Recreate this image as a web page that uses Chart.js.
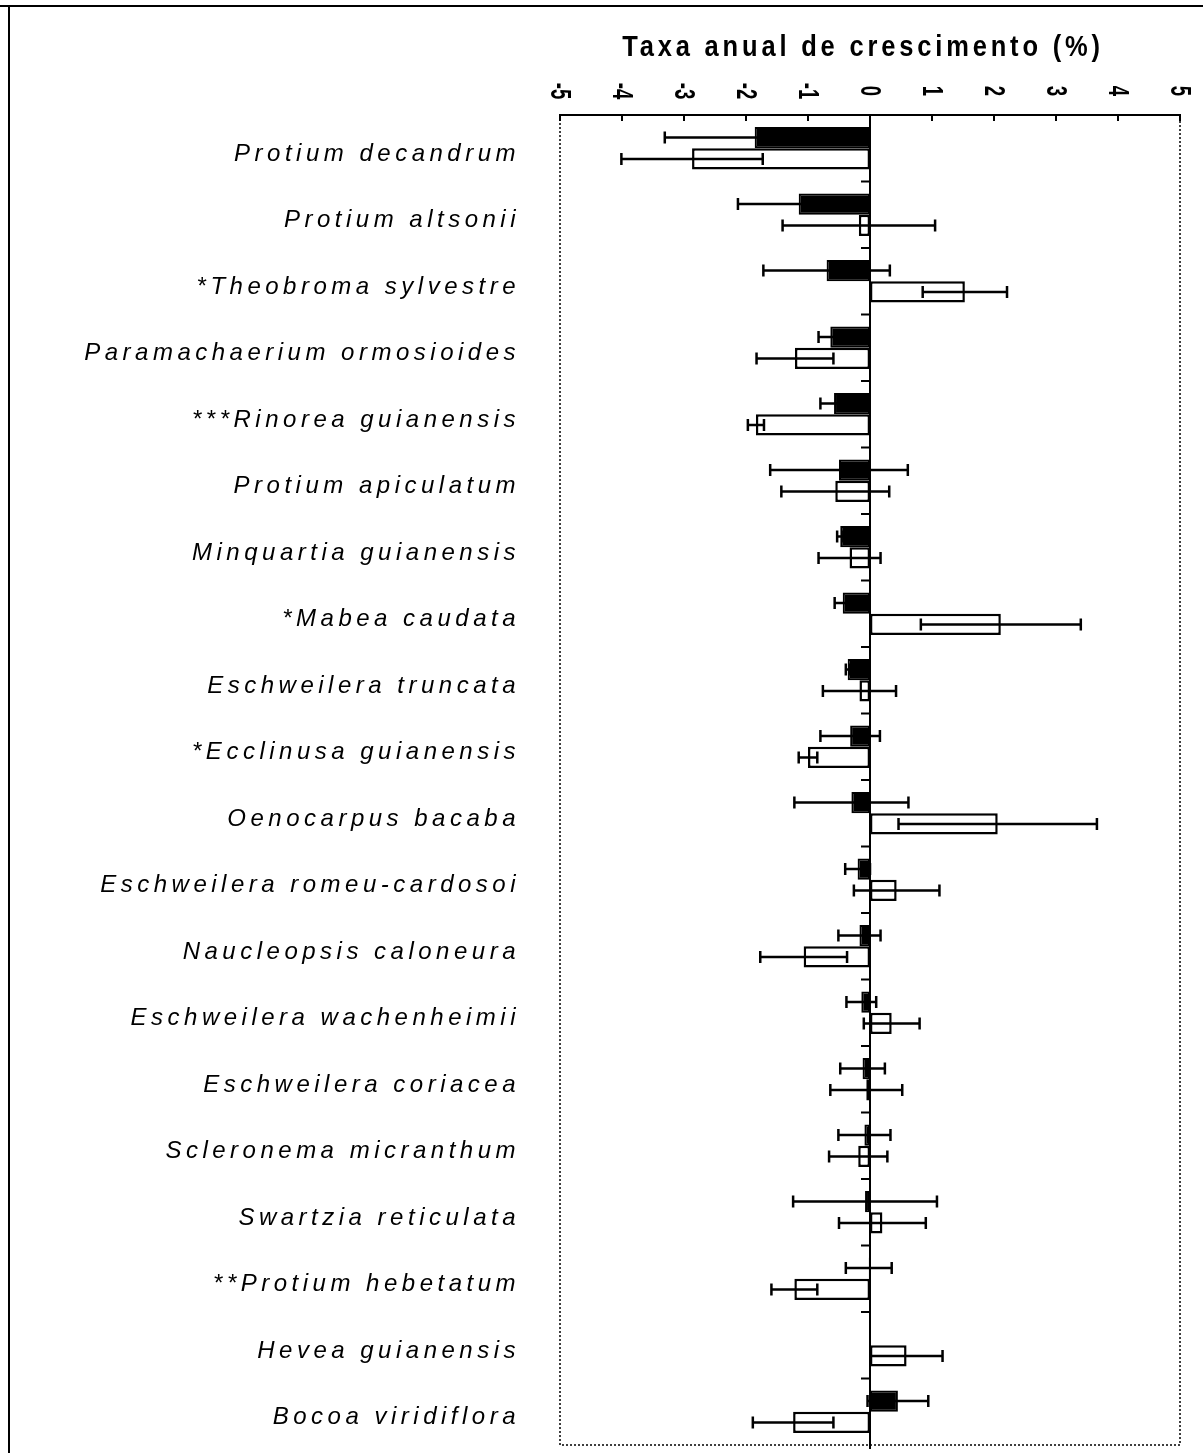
<!DOCTYPE html>
<html>
<head>
<meta charset="utf-8">
<script src="https://cdn.jsdelivr.net/npm/chart.js@4.4.1/dist/chart.umd.min.js"></script>
<style>
  html, body { margin: 0; padding: 0; background: #fff; }
  canvas { display: block; }
</style>
</head>
<body>
<canvas id="growthChart" width="1203" height="1453"></canvas>
<script>
const species = [
  "Protium decandrum", "Protium altsonii", "*Theobroma sylvestre",
  "Paramachaerium ormosioides", "***Rinorea guianensis", "Protium apiculatum",
  "Minquartia guianensis", "*Mabea caudata", "Eschweilera truncata",
  "*Ecclinusa guianensis", "Oenocarpus bacaba", "Eschweilera romeu-cardosoi",
  "Naucleopsis caloneura", "Eschweilera wachenheimii", "Eschweilera coriacea",
  "Scleronema micranthum", "Swartzia reticulata", "**Protium hebetatum",
  "Hevea guianensis", "Bocoa viridiflora"
];

// filled bars
const blackMean = [-1.86, -1.15, -0.70, -0.64, -0.58, -0.50, -0.48, -0.44, -0.36, -0.32,
                   -0.30, -0.20, -0.17, -0.14, -0.12, -0.09, -0.08, -0.02, 0, 0.45];
const blackErr  = [1.45, 0.98, 1.02, 0.19, 0.22, 1.11, 0.05, 0.13, 0.03, 0.48,
                   0.92, 0.20, 0.34, 0.24, 0.36, 0.42, 1.16, 0.37, 0, 0.49];

// open bars
const whiteMean = [-2.87, -0.18, 1.53, -1.21, -1.84, -0.56, -0.33, 2.11, -0.17, -1.00,
                   2.06, 0.43, -1.07, 0.35, -0.06, -0.19, 0.20, -1.22, 0.59, -1.24];
const whiteErr  = [1.14, 1.23, 0.68, 0.62, 0.13, 0.87, 0.50, 1.29, 0.59, 0.15,
                   1.60, 0.69, 0.70, 0.45, 0.58, 0.47, 0.70, 0.37, 0.58, 0.65];

const xTicks = [-5, -4, -3, -2, -1, 0, 1, 2, 3, 4, 5];
const axisTitle = "Taxa anual de crescimento (%)";

const pageFrame = {
  id: "pageFrame",
  beforeDraw(chart) {
    const { ctx, width, height } = chart;
    ctx.save();
    ctx.fillStyle = "#fff";
    ctx.fillRect(0, 0, width, height);
    ctx.strokeStyle = "#000";
    ctx.lineWidth = 2;
    ctx.beginPath();
    ctx.moveTo(0, 6); ctx.lineTo(width, 6);
    ctx.moveTo(9, 6); ctx.lineTo(9, height);
    ctx.stroke();
    ctx.restore();
    // spaced-out italic species labels
    ctx.letterSpacing = "4.5px";
  }
};

const errorBars = {
  id: "errorBars",
  afterDatasetsDraw(chart) {
    const { ctx } = chart;
    const x = chart.scales.x;
    const means = [blackMean, whiteMean];
    const errs = [blackErr, whiteErr];
    ctx.save();
    ctx.strokeStyle = "#000";
    ctx.lineWidth = 2.5;
    chart.data.datasets.forEach((ds, d) => {
      chart.getDatasetMeta(d).data.forEach((bar, i) => {
        const e = errs[d][i];
        if (!e) return;
        const lo = x.getPixelForValue(means[d][i] - e);
        const hi = x.getPixelForValue(means[d][i] + e);
        const y = bar.y;
        ctx.beginPath();
        ctx.moveTo(lo, y); ctx.lineTo(hi, y);
        ctx.moveTo(lo, y - 6); ctx.lineTo(lo, y + 6);
        ctx.moveTo(hi, y - 6); ctx.lineTo(hi, y + 6);
        ctx.stroke();
      });
    });
    ctx.restore();
  }
};

const axisFrame = {
  id: "axisFrame",
  afterDraw(chart) {
    const { ctx, chartArea: a } = chart;
    const x = chart.scales.x, y = chart.scales.y;
    ctx.save();
    ctx.letterSpacing = "0px";
    ctx.strokeStyle = "#000";

    // dotted left, bottom, right
    ctx.lineWidth = 1.5;
    ctx.setLineDash([2, 2]);
    ctx.beginPath();
    ctx.moveTo(a.left, a.top); ctx.lineTo(a.left, a.bottom);
    ctx.lineTo(a.right, a.bottom); ctx.lineTo(a.right, a.top);
    ctx.stroke();
    ctx.setLineDash([]);

    // top axis with inward ticks
    ctx.lineWidth = 2;
    ctx.beginPath();
    ctx.moveTo(a.left, a.top); ctx.lineTo(a.right, a.top);
    xTicks.forEach(v => {
      const px = x.getPixelForValue(v);
      ctx.moveTo(px, a.top - 1); ctx.lineTo(px, a.top + 6);
    });
    ctx.stroke();

    // zero line and category separators
    const x0 = x.getPixelForValue(0);
    ctx.beginPath();
    ctx.moveTo(x0, a.top); ctx.lineTo(x0, a.bottom + 4);
    for (let i = 1; i < species.length; i++) {
      const py = (y.getPixelForValue(i - 1) + y.getPixelForValue(i)) / 2;
      ctx.moveTo(x0 - 9, py); ctx.lineTo(x0, py);
    }
    ctx.stroke();

    // tick labels, turned clockwise, tall and narrow
    ctx.fillStyle = "#000";
    ctx.font = "bold 30px 'Liberation Sans'";
    ctx.textAlign = "center";
    ctx.textBaseline = "middle";
    xTicks.forEach(v => {
      ctx.save();
      ctx.translate(x.getPixelForValue(v), 91);
      ctx.rotate(Math.PI / 2);
      ctx.scale(0.62, 1);
      ctx.fillText(String(v), 0, 1);
      ctx.restore();
    });

    // axis title, slightly condensed
    ctx.save();
    ctx.font = "bold 30px 'Liberation Sans'";
    ctx.letterSpacing = "4.5px";
    ctx.translate((a.left + a.right) / 2 - 7, 48);
    ctx.scale(0.85, 1);
    ctx.fillText(axisTitle, 0, 0);
    ctx.restore();
    ctx.restore();
  }
};

new Chart(document.getElementById("growthChart").getContext("2d"), {
  type: "bar",
  data: {
    labels: species,
    datasets: [
      {
        label: "Série 1",
        data: blackMean,
        backgroundColor: "#000",
        borderColor: "#000",
        borderWidth: 2,
        borderSkipped: false
      },
      {
        label: "Série 2",
        data: whiteMean,
        backgroundColor: "#fff",
        borderColor: "#000",
        borderWidth: 2.5,
        borderSkipped: false
      }
    ]
  },
  options: {
    indexAxis: "y",
    responsive: false,
    animation: false,
    devicePixelRatio: 1,
    categoryPercentage: 0.64,
    barPercentage: 1,
    layout: { padding: { left: 10, right: 23, top: 0, bottom: 8 } },
    plugins: {
      legend: { display: false },
      tooltip: { enabled: false }
    },
    scales: {
      x: {
        type: "linear",
        position: "top",
        min: -5,
        max: 5,
        ticks: { display: false, stepSize: 1 },
        grid: { display: false },
        border: { display: false },
        afterFit(scale) {
          scale.height = 115;
          scale.paddingLeft = 0;
          scale.paddingRight = 0;
        }
      },
      y: {
        type: "category",
        grid: { display: false },
        border: { display: false },
        ticks: {
          autoSkip: false,
          color: "#000",
          padding: 32,
          labelOffset: 6,
          font: { family: "'Liberation Sans'", size: 24, style: "italic" }
        },
        afterFit(scale) {
          scale.width = 550;
          scale.paddingTop = 0;
          scale.paddingBottom = 0;
        }
      }
    }
  },
  plugins: [pageFrame, errorBars, axisFrame]
});
</script>
</body>
</html>
